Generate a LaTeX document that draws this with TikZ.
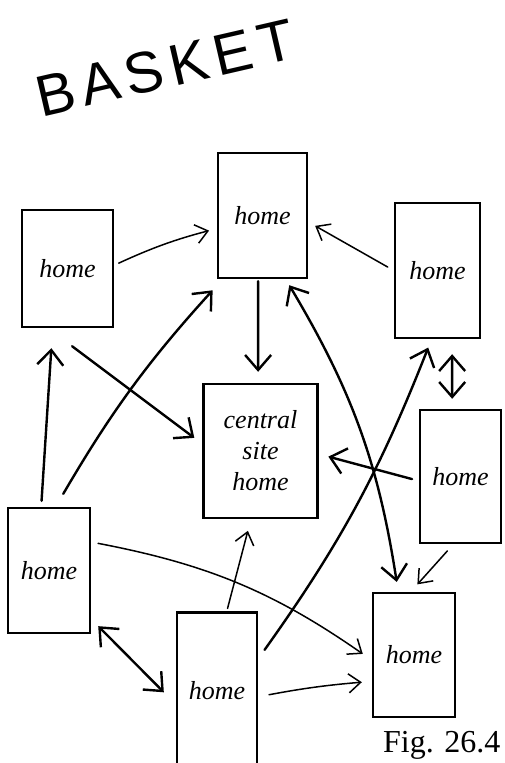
\documentclass[tikz,border=0pt]{standalone}
\usepackage{fontspec}
\setmainfont{Liberation Serif}
\newfontfamily\handfont[LetterSpace=12]{Liberation Sans}
\usetikzlibrary{arrows.meta}

\tikzset{
  homebox/.style={draw, line width=2.4pt, inner sep=0pt, align=center,
    font=\fontsize{26}{31}\selectfont\itshape},
  thickarrow/.style={line width=2.4pt, line cap=round,
    >={Straight Barb[length=15pt, width=26pt]}, ->},
  thinarrow/.style={line width=1.5pt, line cap=round,
    >={Straight Barb[length=12pt, width=19pt]}, ->},
}

\begin{document}
\begin{tikzpicture}[x=1pt, y=1pt]
  \useasboundingbox (0,0) rectangle (505,-763);
  %
  \node[rotate=13, font=\handfont\fontsize{58}{58}\selectfont] (title) at (165,-68) {BASKET};
  %
  \node[homebox, minimum width=89pt, minimum height=125pt] (top) at (262.5,-215.5) {home};        % top box
  \node[homebox, minimum width=91pt, minimum height=117pt] (upleft) at (67.5,-268.5) {home};       % upper left box
  \node[homebox, minimum width=85pt, minimum height=135pt] (upright) at (437.5,-270.5) {home};     % upper right box
  \node[homebox, minimum width=114pt, minimum height=134pt] (central) at (260.5,-451) {central\\site\\home};
  \node[homebox, minimum width=81pt, minimum height=133pt] (midright) at (460.5,-476.5) {home};    % middle right box
  \node[homebox, minimum width=82pt, minimum height=125pt] (lowleft) at (49,-570.5) {home};        % lower left box
  \node[homebox, minimum width=80pt, minimum height=157pt] (bottom) at (217,-691) {home};          % bottom box
  \node[homebox, minimum width=82pt, minimum height=124pt] (lowright) at (414,-655) {home};        % lower right box
  %
  \node[anchor=base east, font=\fontsize{32}{32}\selectfont] (fig) at (504,-752) {Fig. 26.4};
  %
  % thin arrows
  \draw[thinarrow, shorten <=5pt, shorten >=8pt] (upleft.4) to[bend left=5] (top.196);
  \draw[thinarrow, shorten <=7pt, shorten >=8pt] (upright.west) -- (top.-8);
  \draw[thinarrow, shorten <=9pt, shorten >=10pt] (midright.264) -- (lowright.93);
  \draw[thinarrow, shorten <=7pt, shorten >=11pt] (lowleft.34) to[bend left=12] (lowright.187);
  \draw[thinarrow, shorten <=3pt, shorten >=12pt] (bottom.83) -- (central.262);
  \draw[thinarrow, shorten <=11pt, shorten >=10pt] (bottom.-8) to[bend left=3] (lowright.212);
  %
  % thick arrows
  \draw[thickarrow, shorten <=2pt, shorten >=11pt] (top.266) -- (central.92);
  \draw[thickarrow, shorten <=30pt, shorten >=10pt] (upleft.252) -- (central.173);
  \draw[thickarrow, shorten <=15pt, shorten >=15pt] (lowleft.84) to[bend left=6] (top.238);
  \draw[thickarrow, shorten <=6pt, shorten >=20pt] (lowleft.97) -- (upleft.256);
  \draw[thickarrow, shorten <=11pt, shorten >=9pt] (bottom.38) to[bend right=7] (upright.265);
  \draw[thickarrow, shorten <=7pt, shorten >=10pt] (midright.186) -- (central.-3);
  %
  % two-way arrows
  \draw[thickarrow, <->, shorten <=7pt, shorten >=10pt] (top.-70) to[bend left=11] (lowright.104);
  \draw[thickarrow, <->, shorten <=15pt, shorten >=10pt] (upright.282) -- (midright.97);
  \draw[thickarrow, <->, shorten <=10pt, shorten >=17pt] (lowleft.-49) -- (bottom.198);
\end{tikzpicture}
\end{document}
